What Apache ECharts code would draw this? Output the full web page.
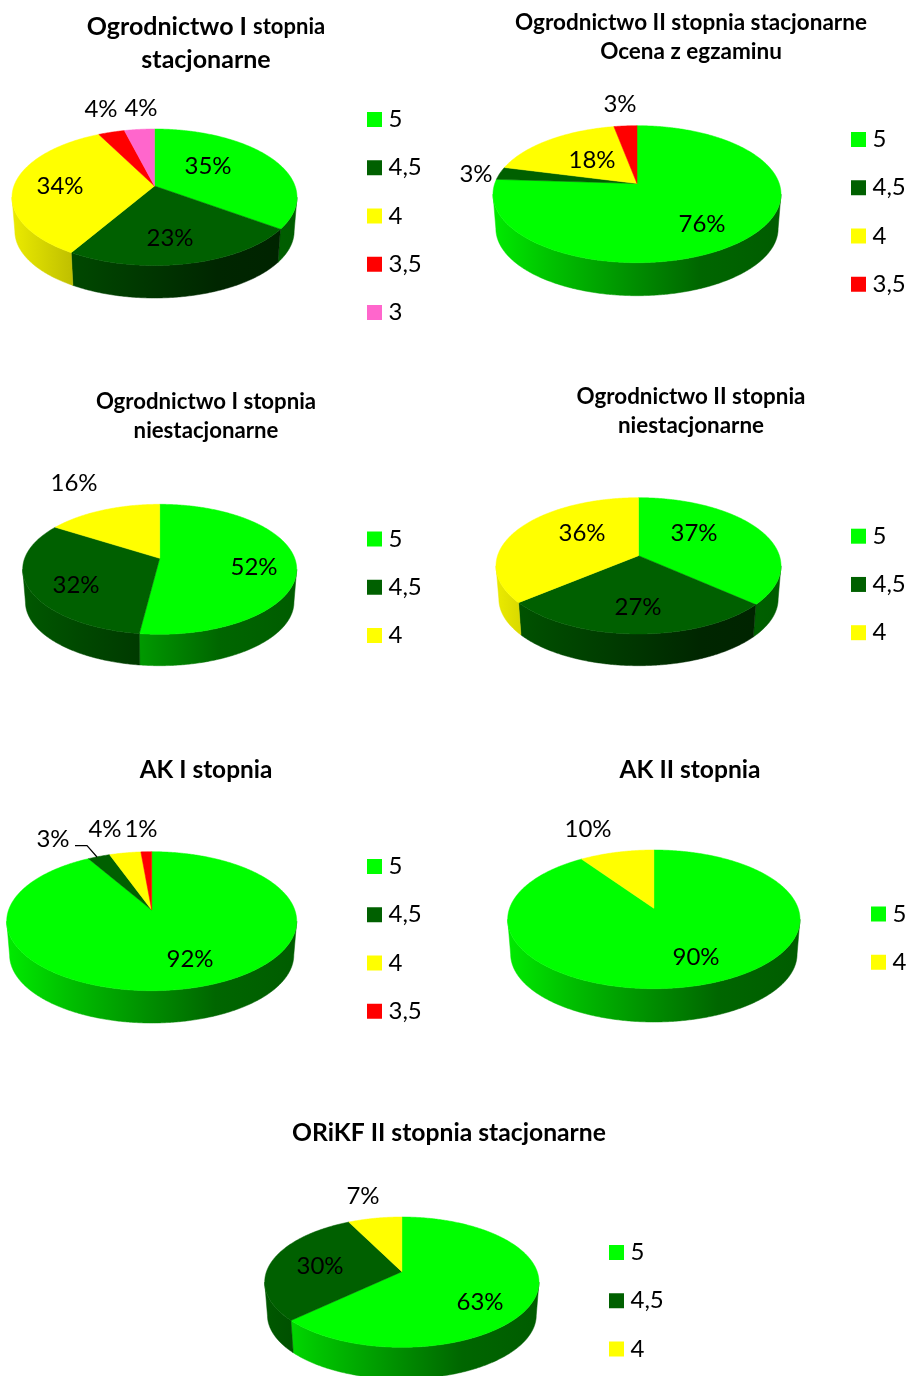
<!DOCTYPE html>
<html><head><meta charset="utf-8">
<style>html,body{margin:0;padding:0;background:#fff}#c{width:910px;height:1376px}</style>
<script src="https://cdn.jsdelivr.net/npm/echarts@6/dist/echarts.min.js"></script>
</head><body><div id="c"></div>
<script>
// ---- data ----
const grades = ['5', '4,5', '4', '3,5', '3'];
const ogrodnictwoIStac = [35, 23.49, 34, 3.51, 4];
const ogrodnictwoIIStac = [76, 3, 18, 3];
const ogrodnictwoINiestac = [52, 32, 16];
const ogrodnictwoIINiestac = [36.51, 27.49, 36];
const akI = [91.6, 2.9, 4.1, 1.4];
const akII = [90.4, 9.6];          // grades 5 and 4 only
const orikfII = [63, 29.6, 7.4];
const akIIGrades = ['5', '4'];

// ---- styles and layout (separate from the data) ----
const FONT = 'Lato, "Open Sans", sans-serif';
const colors = {'5': '#00ff00', '4,5': '#006000', '4': '#ffff00', '3,5': '#ff0000', '3': '#ff66cc'};
const shadeStops = [[0, .92], [.2, .76], [.5, .55], [.72, .40], [1, .36]];
const LABEL_SIZE = 24, LEGEND_SIZE = 24, SHRINK = 0.98;

const charts = [
  {values: ogrodnictwoIStac, names: grades, xl: 12, xr: 297, top: 129, apex: 186, front: 265.5, wall: 298,
   labels: [[208,166],[170,238],[60,186],[101,109],[141,108]], legend: [367, 119], gap: 48.25},
  {values: ogrodnictwoIIStac, names: grades, xl: 493, xr: 781, top: 125.7, apex: 183.5, front: 262.7, wall: 295.7,
   labels: [[702,224],[476,174],[592,160],[620,104]], legend: [851, 139], gap: 48.25},
  {values: ogrodnictwoINiestac, names: grades, xl: 22.7, xr: 296.7, top: 504.3, apex: 558.3, front: 634.3, wall: 665.7,
   labels: [[254,567],[76,585],[74,483]], legend: [367, 538.5], gap: 48.25},
  {values: ogrodnictwoIINiestac, names: grades, xl: 496, xr: 781, top: 497.7, apex: 555.7, front: 634, wall: 665.7,
   labels: [[694,533],[638,607],[582,533]], legend: [851, 535.7], gap: 48.25},
  {values: akI, names: grades, xl: 6.7, xr: 296.7, top: 851.7, apex: 910, front: 990.7, wall: 1023,
   labels: [[190,959],[53,839],[105,829],[141,829]], legend: [367, 866], gap: 48.25,
   leader: {slice: 1, points: [[75,845.7],[87,845.7],[97,857]]}},
  {values: akII, names: akIIGrades, xl: 507.7, xr: 800, top: 850, apex: 908.3, front: 988.7, wall: 1022,
   labels: [[696,957],[588,829]], legend: [871, 913.5], gap: 48.25},
  {values: orikfII, names: grades, xl: 264.7, xr: 539, top: 1217, apex: 1271.7, front: 1347.3, wall: 1379,
   labels: [[480,1302],[320,1266],[363,1196]], legend: [609, 1252], gap: 48.25}
];

const titles = [
  {text: '{a|Ogrodnictwo I }{b|stopnia}\n{a|stacjonarne}', x: 206, y: 10, a: 25, b: 22, lh: 33},
  {text: '{a|Ogrodnictwo II stopnia stacjonarne}\n{a|Ocena z egzaminu}', x: 691, y: 8, a: 22.5, b: 20, lh: 29},
  {text: '{a|Ogrodnictwo I stopnia}\n{a|niestacjonarne}', x: 206, y: 388, a: 22.2, b: 20, lh: 28.5},
  {text: '{a|Ogrodnictwo II stopnia}\n{a|niestacjonarne}', x: 691, y: 382, a: 22.4, b: 20, lh: 29},
  {text: '{a|AK I stopnia}', x: 206, y: 755, a: 24.4, b: 20, lh: 30},
  {text: '{a|AK II stopnia}', x: 690, y: 755, a: 24.6, b: 20, lh: 30},
  {text: '{a|ORiKF II stopnia stacjonarne}', x: 449, y: 1118, a: 24.7, b: 20, lh: 30}
];

// ---- perspective geometry: a circle seen in perspective ----
function geometry(c) {
  const back = c.apex - c.top, fore = c.front - c.apex;
  const k = (fore - back) / (fore + back);
  const ry = back * (1 + k);
  const cx = (c.xl + c.xr) / 2;
  const rx = (c.xr - c.xl) / 2 * Math.sqrt(1 - k * k);
  const pt = (t) => {
    const u = Math.sin(t), v = -Math.cos(t), w = 1 - k * v;
    return [cx + rx * u / w, c.apex + ry * v / w];
  };
  const d = c.wall - (c.apex + (c.front - c.apex) * SHRINK);
  const low = (p) => [cx + (p[0] - cx) * SHRINK, c.apex + (p[1] - c.apex) * SHRINK + d];
  return {k, cx, pt, low};
}
function shade(hex, m) {
  const n = parseInt(hex.slice(1), 16);
  const f = (x) => Math.round(x * m);
  return `rgb(${f(n >> 16 & 255)},${f(n >> 8 & 255)},${f(n & 255)})`;
}
function arc(pt, a0, a1) {
  const out = [], n = Math.max(2, Math.ceil((a1 - a0) / 0.01));
  for (let i = 0; i <= n; i++) out.push(pt(a0 + (a1 - a0) * i / n));
  return out;
}

function makeRender(c, sliceIndex, color) {
  const g = geometry(c);
  const total = c.values.reduce((a, b) => a + b, 0);
  const visA = Math.acos(-g.k), visB = 2 * Math.PI - visA;
  const grad = new echarts.graphic.LinearGradient(c.xl, 0, c.xr, 0,
    shadeStops.map(s => ({offset: s[0], color: shade(color, s[1])})), true);
  return function (params, api) {
    const value = api.value(0), before = api.value(1);
    const a0 = before / total * 2 * Math.PI, a1 = (before + value) / total * 2 * Math.PI;
    const kids = [];
    const w0 = Math.max(a0, visA), w1 = Math.min(a1, visB);
    if (w1 > w0) {
      const rim = arc(g.pt, w0, w1);
      kids.push({type: 'polygon', shape: {points: rim.concat(rim.map(g.low).reverse())},
        style: {fill: grad, stroke: grad, lineWidth: 0.5}});
    }
    kids.push({type: 'polygon', shape: {points: [[g.cx, c.apex]].concat(arc(g.pt, a0, a1))},
      style: {fill: color, stroke: color, lineWidth: 0.5}});
    if (c.leader && c.leader.slice === sliceIndex) {
      kids.push({type: 'polyline', z2: 20, shape: {points: c.leader.points},
        style: {stroke: '#000', lineWidth: 1.2, fill: 'none'}});
    }
    const lp = c.labels[sliceIndex];
    kids.push({type: 'text', z2: 30, style: {text: Math.round(value / total * 100) + '%',
      x: lp[0], y: lp[1], align: 'center', verticalAlign: 'middle',
      font: LABEL_SIZE + 'px ' + FONT, fill: '#000'}});
    return {type: 'group', children: kids};
  };
}

const series = [], legends = [];
charts.forEach((c) => {
  let before = 0;
  const used = [];
  c.values.forEach((v, i) => {
    const name = c.names[i];
    used.push(name);
    series.push({type: 'custom', name, coordinateSystem: 'none', silent: true, animation: false, clip: false,
      itemStyle: {color: colors[name]},
      renderItem: makeRender(c, i, colors[name]), data: [[v, before]]});
    before += v;
  });
  legends.push({orient: 'vertical', left: c.legend[0], top: c.legend[1] - 11.5, padding: 0, selectedMode: false,
    icon: 'rect', itemWidth: 15, itemHeight: 15, itemGap: c.gap - 24,
    textStyle: {fontFamily: FONT, fontSize: LEGEND_SIZE, color: '#000', height: 24, lineHeight: 24, padding: [0, 0, 0, 1.5]},
    data: used});
});

const chart = echarts.init(document.getElementById('c'), null, {renderer: 'canvas'});
chart.setOption({
  animation: false,
  backgroundColor: '#fff',
  title: titles.map(t => ({
    text: t.text, left: t.x, top: t.y, textAlign: 'center', padding: 0,
    textStyle: {fontFamily: FONT, color: '#000', rich: {
      a: {fontFamily: FONT, fontWeight: 'bold', fontSize: t.a, lineHeight: t.lh, color: '#000'},
      b: {fontFamily: FONT, fontWeight: 'bold', fontSize: t.b, lineHeight: t.lh, color: '#000'}}}
  })),
  legend: legends,
  series
});
</script></body></html>
